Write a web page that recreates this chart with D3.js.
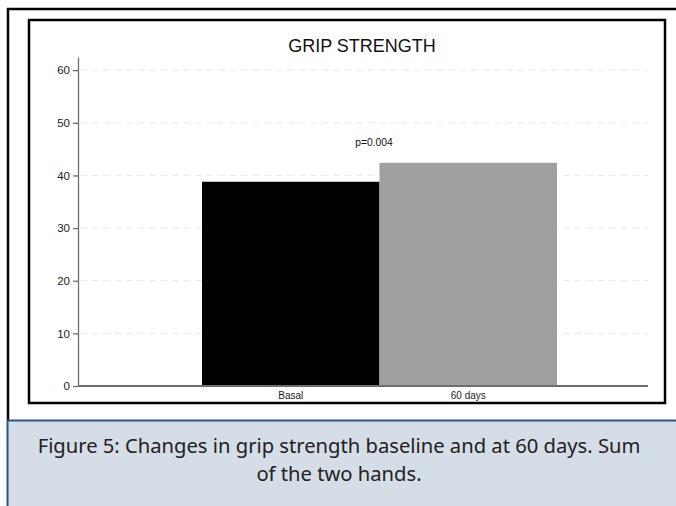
<!DOCTYPE html>
<html>
<head>
<meta charset="utf-8">
<script src="https://cdn.jsdelivr.net/npm/d3@7"></script>
<style>
  html, body { margin: 0; padding: 0; background: #fff; }
  svg { display: block; }
</style>
</head>
<body>
<svg id="chart" width="676" height="506"></svg>
<script>
// ---- data ----
const categories = ["Basal", "60 days"];
const values = [38.8, 42.4];
const barColors = ["#000000", "#a0a0a0"];
const yTicks = [0, 10, 20, 30, 40, 50, 60];
const title = "GRIP STRENGTH";
const pLabel = "p=0.004";
const captionLines = [
  "Figure 5: Changes in grip strength baseline and at 60 days. Sum",
  "of the two hands."
];

const svg = d3.select("#chart");
const font = "Liberation Sans, Arial, sans-serif";

// outer page frame
svg.append("rect").attr("x", 0).attr("y", 0).attr("width", 676).attr("height", 506).attr("fill", "#fff");
svg.append("line").attr("x1", 7).attr("x2", 676).attr("y1", 9).attr("y2", 9)
  .attr("stroke", "#000").attr("stroke-width", 2.5);
svg.append("line").attr("x1", 8).attr("x2", 8).attr("y1", 8).attr("y2", 420)
  .attr("stroke", "#000").attr("stroke-width", 2.5);

// caption box
svg.append("rect").attr("x", 7).attr("y", 420).attr("width", 669).attr("height", 86)
  .attr("fill", "#d5dde6");
svg.append("line").attr("x1", 7).attr("x2", 676).attr("y1", 420.5).attr("y2", 420.5)
  .attr("stroke", "#2a5585").attr("stroke-width", 2);
svg.append("line").attr("x1", 7.5).attr("x2", 7.5).attr("y1", 420).attr("y2", 506)
  .attr("stroke", "#2a5585").attr("stroke-width", 2);
captionLines.forEach((t, i) => {
  svg.append("text").attr("x", 339).attr("y", 453 + i * 28)
    .attr("text-anchor", "middle")
    .attr("font-family", "'Noto Sans', 'Open Sans', sans-serif")
    .attr("font-size", 20.2).attr("fill", "#222").text(t);
});

// inner chart frame
svg.append("rect").attr("x", 29).attr("y", 20).attr("width", 636).attr("height", 383)
  .attr("fill", "#fff").attr("stroke", "#000").attr("stroke-width", 2.5);

// scales
const y = d3.scaleLinear().domain([0, 62.5]).range([386, 57]);
const x = d3.scaleBand().domain(categories).range([202, 557]).padding(0);
const plotLeft = 78, plotRight = 648;

// gridlines
svg.append("g").selectAll("line").data(yTicks.filter(d => d > 0)).join("line")
  .attr("x1", plotLeft + 2).attr("x2", plotRight)
  .attr("y1", d => y(d)).attr("y2", d => y(d))
  .attr("stroke", "#ededed").attr("stroke-width", 1.3).attr("stroke-dasharray", "7,4.5");

// bars
svg.append("g").selectAll("rect").data(categories).join("rect")
  .attr("x", d => x(d)).attr("width", x.bandwidth())
  .attr("y", (d, i) => y(values[i])).attr("height", (d, i) => y(0) - y(values[i]))
  .attr("fill", (d, i) => barColors[i]);

// y axis
const yAxis = d3.axisLeft(y).tickValues(yTicks).tickSize(5).tickSizeOuter(0).tickPadding(3);
const gy = svg.append("g").attr("transform", `translate(${plotLeft},0)`).call(yAxis);
gy.select(".domain").attr("stroke", "#6e6e6e").attr("stroke-width", 1.3);
gy.selectAll(".tick line").attr("stroke", "#6e6e6e").attr("stroke-width", 1.3);
gy.selectAll(".tick text").attr("font-family", font).attr("font-size", 11.5).attr("fill", "#222");

// x axis
svg.append("line").attr("x1", plotLeft).attr("x2", plotRight).attr("y1", y(0)).attr("y2", y(0))
  .attr("stroke", "#6e6e6e").attr("stroke-width", 1.8);
const xAxis = d3.axisBottom(x).tickSize(0).tickPadding(6);
const gx = svg.append("g").attr("transform", `translate(0,${y(0)})`).call(xAxis);
gx.select(".domain").remove();
gx.selectAll(".tick text").attr("font-family", font).attr("font-size", 10).attr("fill", "#222");

// title
svg.append("text").attr("x", 362).attr("y", 52).attr("text-anchor", "middle")
  .attr("font-family", font).attr("font-size", 18).attr("fill", "#111").text(title);

// p value
svg.append("text").attr("x", 374).attr("y", 146).attr("text-anchor", "middle")
  .attr("font-family", font).attr("font-size", 10.3).attr("fill", "#111").text(pLabel);
</script>
</body>
</html>
